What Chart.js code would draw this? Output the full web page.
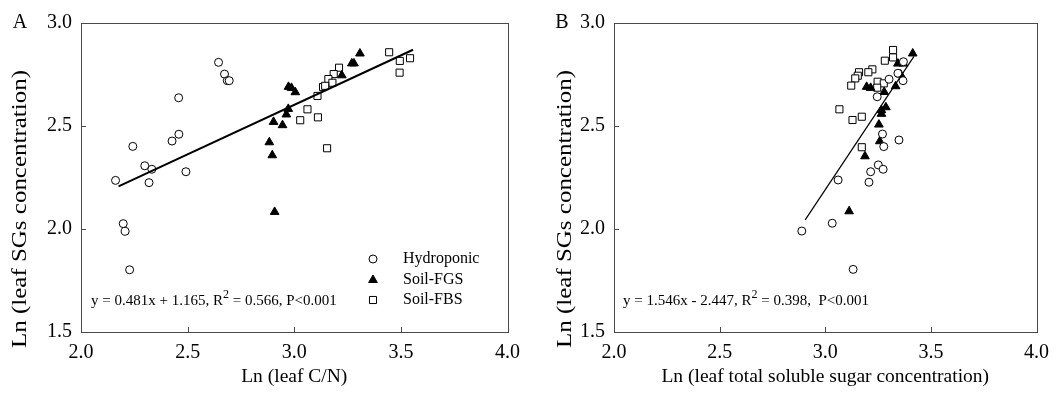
<!DOCTYPE html>
<html><head><meta charset="utf-8">
<script src="https://cdn.jsdelivr.net/npm/chart.js@4.4.0/dist/chart.umd.min.js"></script>
<style>
html,body{margin:0;padding:0;background:#fff;}
#wrap{position:relative;width:1058px;height:397px;overflow:hidden;}
.pane{position:absolute;top:0;width:529px;height:397px;}
canvas{display:block;}
</style></head><body>
<div id="wrap">
<div class="pane" style="left:0"><canvas id="cA" width="529" height="397" style="width:529px;height:397px"></canvas></div>
<div class="pane" style="left:529px"><canvas id="cB" width="529" height="397" style="width:529px;height:397px"></canvas></div>
</div>
<script>
// ---- tick labels ----
const xTicks = [2.0, 2.5, 3.0, 3.5, 4.0];
const yTicks = [1.5, 2.0, 2.5, 3.0];
const seriesNames = ['Hydroponic', 'Soil-FGS', 'Soil-FBS'];

// ---- Panel A: Ln(leaf C/N) vs Ln(leaf SGs) ----
const hydroA_x = [2.645,2.673,2.686,2.695,2.458,2.459,2.427,2.243,2.299,2.332,2.162,2.319,2.492,2.198,2.207,2.228];
const hydroA_y = [2.809,2.752,2.720,2.720,2.637,2.460,2.427,2.401,2.307,2.290,2.236,2.225,2.278,2.026,1.989,1.802];
const fgsA_x = [3.308,3.270,3.280,3.223,2.973,2.987,3.005,2.972,2.963,2.903,2.945,2.883,2.897,2.908];
const fgsA_y = [2.852,2.804,2.804,2.746,2.690,2.685,2.664,2.583,2.556,2.520,2.504,2.421,2.358,2.083];
const fbsA_x = [3.445,3.495,3.543,3.494,3.210,3.185,3.160,3.179,3.135,3.145,3.109,3.062,3.028,3.111,3.154];
const fbsA_y = [2.858,2.816,2.829,2.759,2.783,2.752,2.728,2.710,2.689,2.695,2.646,2.581,2.528,2.542,2.392];
const fitA_x = [2.176, 3.557];
const fitA_y = [2.207, 2.870];

// ---- Panel B: Ln(leaf total soluble sugar) vs Ln(leaf SGs) ----
const hydroB_x = [3.370,3.344,3.302,3.368,3.246,3.271,3.277,3.349,3.251,3.274,3.215,3.207,3.061,3.033,2.889,3.132];
const hydroB_y = [2.812,2.756,2.727,2.720,2.642,2.461,2.400,2.432,2.311,2.290,2.278,2.227,2.238,2.028,1.990,1.804];
const fgsB_x = [3.414,3.344,3.370,3.357,3.333,3.196,3.215,3.279,3.287,3.266,3.266,3.254,3.258,3.188,3.113];
const fgsB_y = [2.852,2.803,2.803,2.750,2.693,2.690,2.685,2.665,2.591,2.577,2.559,2.507,2.426,2.353,2.086];
const fbsB_x = [3.321,3.282,3.321,3.223,3.204,3.160,3.154,3.142,3.123,3.248,3.277,3.246,3.067,3.129,3.173,3.173];
const fbsB_y = [2.869,2.817,2.833,2.775,2.761,2.761,2.744,2.731,2.696,2.715,2.707,2.686,2.581,2.529,2.545,2.397];
const fitB_x = [2.905, 3.420];
const fitB_y = [2.044, 2.838];

const FONT = '"Liberation Serif", "Times New Roman", serif';
const AXIS = '#4a4a4a';

function pts(xs, ys){ return xs.map((x,i)=>({x:x, y:ys[i]})); }

function datasets(hx,hy,gx,gy,bx,by,fx,fy,lw){
  return [
    {label:'fit', data:pts(fx,fy), showLine:true, borderColor:'#000', borderWidth:lw, pointRadius:0, fill:false, order:0},
    {label:seriesNames[0], data:pts(hx,hy), pointStyle:'circle', pointRadius:4, backgroundColor:'#fff', borderColor:'#000', pointBorderWidth:1, showLine:false},
    {label:seriesNames[1], data:pts(gx,gy), pointStyle:'triangle', pointRadius:5, backgroundColor:'#000', borderColor:'#000', pointBorderWidth:1, showLine:false},
    {label:seriesNames[2], data:pts(bx,by), pointStyle:'rect', pointRadius:5, backgroundColor:'#fff', borderColor:'#000', pointBorderWidth:1, showLine:false}
  ];
}

function marker(ctx, style, x, y){
  ctx.save();
  ctx.lineWidth = 1; ctx.strokeStyle = '#000';
  ctx.beginPath();
  if(style==='circle'){ ctx.arc(x,y,4,0,Math.PI*2); ctx.fillStyle='#fff'; ctx.fill(); ctx.stroke(); }
  else if(style==='triangle'){ const r=5; ctx.moveTo(x, y-r); ctx.lineTo(x+r*Math.sqrt(3)/2, y+r/2); ctx.lineTo(x-r*Math.sqrt(3)/2, y+r/2); ctx.closePath(); ctx.fillStyle='#000'; ctx.fill(); ctx.stroke(); }
  else { const s=5*Math.SQRT1_2; ctx.rect(x-s,y-s,2*s,2*s); ctx.fillStyle='#fff'; ctx.fill(); ctx.stroke(); }
  ctx.restore();
}

function decorPlugin(cfg){
  return {
    id:'decor'+cfg.letter,
    afterDraw(chart){
      const ctx = chart.ctx, a = chart.chartArea;
      const xs = chart.scales.x, ys = chart.scales.y;
      ctx.save();
      // frame
      ctx.strokeStyle = AXIS; ctx.lineWidth = 1;
      ctx.strokeRect(Math.round(a.left)+0.5, Math.round(a.top)+0.5, Math.round(a.right-a.left), Math.round(a.bottom-a.top));
      // inward ticks
      ctx.beginPath();
      xTicks.forEach(v=>{ if(v>xs.min && v<xs.max){ const p=Math.round(xs.getPixelForValue(v))+0.5; ctx.moveTo(p, a.bottom); ctx.lineTo(p, a.bottom-5);} });
      yTicks.forEach(v=>{ if(v>ys.min && v<ys.max){ const p=Math.round(ys.getPixelForValue(v))+0.5; ctx.moveTo(a.left, p); ctx.lineTo(a.left+5, p);} });
      ctx.stroke();
      // panel letter
      ctx.fillStyle = '#000';
      ctx.font = '20px '+FONT; ctx.textAlign='center'; ctx.textBaseline='middle';
      ctx.fillText(cfg.letter, cfg.letterX, 23);
      // y title (slightly stretched like the reference)
      ctx.save();
      ctx.translate(cfg.yTitleX, 209);
      ctx.rotate(-Math.PI/2);
      ctx.font = '21px '+FONT;
      const w = ctx.measureText(cfg.yTitle).width;
      ctx.scale(278/w, 1);
      ctx.textAlign='center'; ctx.textBaseline='middle';
      ctx.fillText(cfg.yTitle, 0, 0);
      ctx.restore();
      // equation
      let ex = cfg.eqX; const ey = 301;
      ctx.textAlign='left'; ctx.textBaseline='middle';
      cfg.eq.forEach(part=>{
        if(part.sup){ ctx.font='12px '+FONT; ctx.fillText(part.t, ex, ey-6); }
        else { ctx.font='15px '+FONT; ctx.fillText(part.t, ex, ey); }
        ex += ctx.measureText(part.t).width;
      });
      // legend
      if(cfg.legend){
        const styles=['circle','triangle','rect'];
        const rows=[259,280,300];
        ctx.font='16px '+FONT;
        seriesNames.forEach((n,i)=>{
          marker(ctx, styles[i], 373, rows[i]);
          ctx.fillStyle='#000'; ctx.textAlign='left'; ctx.textBaseline='middle';
          ctx.fillText(n, 403, rows[i]);
        });
      }
      ctx.restore();
    }
  };
}

function options(padRight, yWidth, xTitle){
  return {
    responsive:false, animation:false, devicePixelRatio:1,
    layout:{padding:{left:0,right:padRight,top:23,bottom:0}},
    plugins:{legend:{display:false}, tooltip:{enabled:false}},
    elements:{line:{tension:0}},
    scales:{
      x:{type:'linear', min:2, max:4,
        afterBuildTicks:s=>{ s.ticks = xTicks.map(v=>({value:v})); },
        afterFit:s=>{ s.height = 65; },
        ticks:{font:{family:FONT,size:20}, color:'#000', padding:9, maxRotation:0, autoSkip:false, callback:v=>Number(v).toFixed(1)},
        grid:{display:false, drawTicks:false}, border:{display:false},
        title:{display:true, text:xTitle, color:'#000', font:{family:FONT,size:19.5}, padding:{top:0,bottom:8}}
      },
      y:{type:'linear', min:1.5, max:3,
        afterBuildTicks:s=>{ s.ticks = yTicks.map(v=>({value:v})); },
        afterFit:s=>{ s.width = yWidth; },
        ticks:{font:{family:FONT,size:20}, color:'#000', padding:9, autoSkip:false, callback:v=>Number(v).toFixed(1)},
        grid:{display:false, drawTicks:false}, border:{display:false},
        title:{display:false}
      }
    }
  };
}

new Chart(document.getElementById('cA'), {
  type:'scatter',
  data:{datasets:datasets(hydroA_x,hydroA_y,fgsA_x,fgsA_y,fbsA_x,fbsA_y,fitA_x,fitA_y,2)},
  options:options(21, 81, 'Ln (leaf C/N)'),
  plugins:[decorPlugin({letter:'A', letterX:20, yTitleX:20, yTitle:'Ln (leaf SGs concentration)', eqX:91,
    eq:[{t:'y = 0.481x + 1.165, R'},{t:'2',sup:true},{t:' = 0.566, P<0.001'}], legend:true})]
});

new Chart(document.getElementById('cB'), {
  type:'scatter',
  data:{datasets:datasets(hydroB_x,hydroB_y,fgsB_x,fgsB_y,fbsB_x,fbsB_y,fitB_x,fitB_y,1.2)},
  options:options(16, 85, 'Ln (leaf total soluble sugar concentration)'),
  plugins:[decorPlugin({letter:'B', letterX:33, yTitleX:36, yTitle:'Ln (leaf SGs concentration)', eqX:94,
    eq:[{t:'y = 1.546x - 2.447, R'},{t:'2',sup:true},{t:' = 0.398,  P<0.001'}], legend:false})]
});
</script>
</body></html>
